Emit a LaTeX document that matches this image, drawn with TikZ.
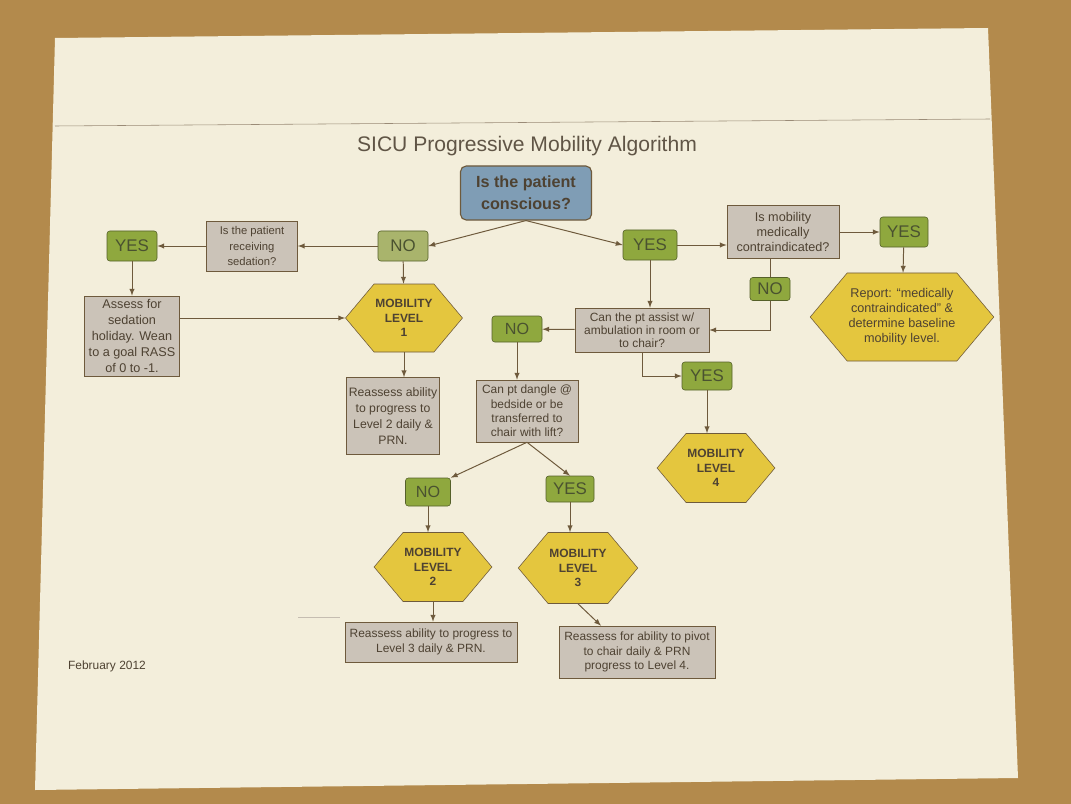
\documentclass[tikz,border=0pt]{standalone}
\usepackage{fontspec}
\setmainfont{Liberation Sans}
\usetikzlibrary{arrows}
\usetikzlibrary{shapes}
\usetikzlibrary{positioning}

\definecolor{carpet}{HTML}{B38A4C}
\definecolor{paper}{HTML}{F3EEDB}
\definecolor{edge}{HTML}{6E5A3C}
\definecolor{ink}{HTML}{4E4232}
\definecolor{boxgray}{HTML}{CBC3B8}
\definecolor{ansgreen}{HTML}{8FA83E}
\definecolor{ansfaded}{HTML}{A9B46C}
\definecolor{ansedge}{HTML}{55602A}
\definecolor{ansink}{HTML}{4A5230}
\definecolor{lvlyellow}{HTML}{E4C63E}
\definecolor{askblue}{HTML}{7F9DB5}

\begin{document}
\begin{tikzpicture}[x=0.25mm,y=-0.25mm,>=latex,
	box/.style={draw=edge, fill=boxgray, text=ink, align=center, inner sep=1pt,
		font=\fontsize{8.5}{10.5}\selectfont},
	ans/.style={draw=ansedge, fill=ansgreen, rounded corners=2pt, text=ansink,
		font=\fontsize{12}{12}\selectfont, minimum width=12.5mm, minimum height=7.5mm, inner sep=1pt},
	level/.style={signal, signal to=east and west, signal pointer angle=100,
		draw=edge, fill=lvlyellow, text=ink, align=center, inner sep=1pt,
		font=\bfseries\fontsize{8.5}{10.3}\selectfont,
		minimum width=27mm, minimum height=17mm},
	link/.style={draw=edge, line width=0.7pt, ->}]
	\useasboundingbox (0,0) rectangle (1071,804);
	%% The sheet
	\fill[carpet] (0,0) rectangle (1071,804);
	\fill[paper] (55,38) -- (988,28) -- (1018,778) -- (35,790) -- cycle;
	\draw[edge!70] (55,126) -- (990,119);
	\draw[edge!40] (298,617) -- (340,617);
	\node[text=ink!90, font=\fontsize{15}{15}\selectfont] (title) at (527,146)
		{SICU Progressive Mobility Algorithm};
	\node[text=ink, font=\fontsize{8.5}{10}\selectfont] (date) at (107,666) {February 2012};
	%% The question at the top
	\node[box, fill=askblue, rounded corners=4pt, line width=0.8pt,
		font=\bfseries\fontsize{11.5}{15.5}\selectfont,
		minimum width=32.75mm, minimum height=13.5mm] (conscious) at (526,193)
		{Is the patient\\conscious?};
	%% Not conscious
	\node[ans, fill=ansfaded] (no1) at (403,246) {NO};
	\node[box, font=\fontsize{8}{11}\selectfont, minimum width=22.75mm,
		minimum height=12.5mm] (sedation) at (252,246) {Is the patient\\receiving\\sedation?};
	\node[ans] (yes1) at (132,246) {YES};
	\node[box, font=\fontsize{9}{11.4}\selectfont, minimum width=23.75mm,
		minimum height=20mm] (assess) at (132,336)
		{Assess for\\sedation\\holiday. Wean\\to a goal RASS\\of 0 to -1.};
	\node[level] (lvl1) at (404,318) {MOBILITY\\LEVEL\\1};
	\node[box, font=\fontsize{8.7}{11.4}\selectfont, minimum width=23.25mm,
		minimum height=19.25mm] (again2) at (393,416)
		{Reassess ability\\to progress to\\Level 2 daily \&\\PRN.};
	%% Conscious
	\node[ans, minimum width=13.5mm] (yes2) at (650,245) {YES};
	\node[box, font=\fontsize{9}{10.8}\selectfont, minimum width=28mm,
		minimum height=13.25mm] (contra) at (783,232)
		{Is mobility\\medically\\contraindicated?};
	\node[ans, minimum width=12mm] (yes3) at (904,232) {YES};
	\node[level, font=\fontsize{9}{10.7}\selectfont, minimum width=41.25mm,
		minimum height=22mm] (report) at (902,317)
		{Report: ``medically\\contraindicated'' \&\\determine baseline\\mobility level.};
	\node[ans, minimum width=10mm, minimum height=5.75mm] (no2) at (770,289) {NO};
	\node[box, minimum width=33.5mm, minimum height=11mm,
		font=\fontsize{8.5}{9.3}\selectfont] (walk) at (642,330)
		{Can the pt assist w/\\ambulation in room or\\to chair?};
	\node[ans, minimum height=6.5mm, font=\fontsize{11.5}{12}\selectfont] (no3) at (517,329) {NO};
	\node[ans, minimum height=7mm] (yes4) at (707,376) {YES};
	\node[level, minimum height=17.25mm] (lvl4) at (716,468) {MOBILITY\\LEVEL\\4};
	\node[box, minimum width=25.5mm, minimum height=15.5mm,
		font=\fontsize{8.5}{10.3}\selectfont] (dangle) at (527,411)
		{Can pt dangle @\\bedside or be\\transferred to\\chair with lift?};
	\node[ans, minimum width=11.25mm, minimum height=7mm,
		font=\fontsize{11.5}{12}\selectfont] (no4) at (428,492) {NO};
	\node[ans, minimum width=12mm, minimum height=6.5mm] (yes5) at (570,489) {YES};
	\node[level, minimum height=17.25mm] (lvl2) at (433,567) {MOBILITY\\LEVEL\\2};
	\node[level, minimum height=17.75mm] (lvl3) at (578,568) {MOBILITY\\LEVEL\\3};
	\node[box, minimum width=43mm, minimum height=10mm,
		font=\fontsize{8.5}{11.2}\selectfont] (again3) at (431,642)
		{Reassess ability to progress to\\Level 3 daily \& PRN.};
	\node[box, minimum width=39mm, minimum height=13mm,
		font=\fontsize{8.5}{10.6}\selectfont] (pivot) at (637,652)
		{Reassess for ability to pivot\\to chair daily \& PRN\\progress to Level 4.};
	%% The arrows
	\draw[link] (conscious.south) -- (no1.east);
	\draw[link] (conscious.south) -- (yes2.west);
	\draw[link] (no1) -- (sedation);
	\draw[link] (sedation) -- (yes1);
	\draw[link] (yes1) -- (assess);
	\draw[link] (assess.east |- lvl1) -- (lvl1.west);
	\draw[link] (no1) -- (lvl1);
	\draw[link] (lvl1.south) -- (lvl1.south |- again2.north);
	\draw[link] (yes2.east) -- (yes2.east -| contra.west);
	\draw[link] (contra) -- (yes3);
	\draw[link] (yes3) -- (report);
	\draw[link] (yes2) -- (yes2.south |- walk.north);
	\draw[draw=edge, line width=0.7pt] (no2.north |- contra.south) -- (no2.north);
	\draw[link] (no2.south) |- (walk.east);
	\draw[link] (walk) -- (no3);
	\draw[link] (no3.south) -- (no3.south |- dangle.north);
	\draw[link] (walk.south) |- (yes4.west);
	\draw[link] (yes4.south) -- (yes4.south |- lvl4.north);
	\draw[link] (dangle.south) -- (no4.north east);
	\draw[link] (dangle.south) -- (yes5.north);
	\draw[link] (no4.south) -- (no4.south |- lvl2.north);
	\draw[link] (yes5.south) -- (yes5.south |- lvl3.north);
	\draw[link] (lvl2.south) -- (lvl2.south |- again3.north);
	\draw[link] (lvl3.south) -- ([xshift=-9mm]pivot.north);
\end{tikzpicture}
\end{document}
